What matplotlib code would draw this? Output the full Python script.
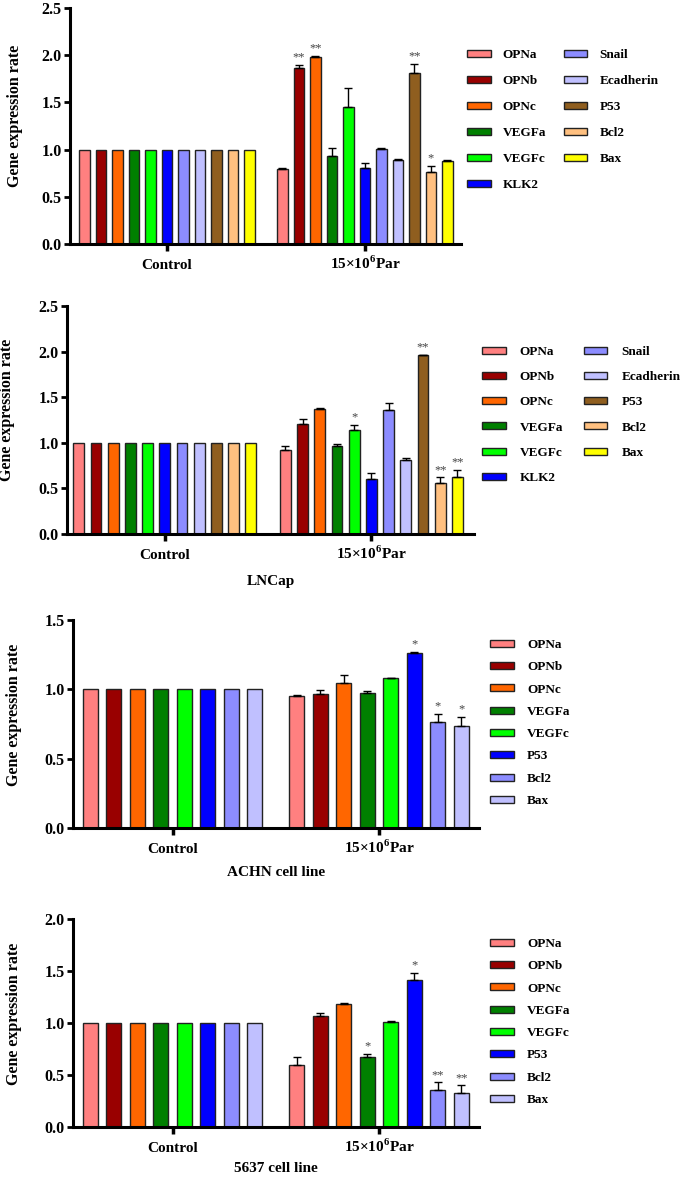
import numpy as np
import matplotlib.pyplot as plt
from matplotlib.patches import Patch

plt.rcParams['font.family'] = ['Liberation Serif', 'DejaVu Serif']
plt.rcParams['font.weight'] = 'bold'
plt.rcParams['mathtext.fontset'] = 'custom'
plt.rcParams['mathtext.rm'] = 'Liberation Serif'
plt.rcParams['mathtext.bf'] = 'Liberation Serif:bold'

# categories
groups = ['Control', r'15×10$^{\mathbf{6}}$Par']

genes11 = ['OPNa', 'OPNb', 'OPNc', 'VEGFa', 'VEGFc', 'KLK2',
           'Snail', 'Ecadherin', 'P53', 'Bcl2', 'Bax']
colors11 = ['#FF8080', '#990000', '#FF6600', '#008000', '#00FF00', '#0000FF',
            '#8C8CFF', '#C0C0FF', '#8F5E1F', '#FFC080', '#FFFF00']

genes8 = ['OPNa', 'OPNb', 'OPNc', 'VEGFa', 'VEGFc', 'P53', 'Bcl2', 'Bax']
colors8 = ['#FF8080', '#990000', '#FF6600', '#008000', '#00FF00', '#0000FF',
           '#8C8CFF', '#C0C0FF']

# panel 1 (no title)
p1_ctrl = [1.0, 1.0, 1.0, 1.0, 1.0, 1.0, 1.0, 1.0, 1.0, 1.0, 1.0]
p1_par = [0.79, 1.86, 1.98, 0.93, 1.45, 0.80, 1.01, 0.89, 1.81, 0.76, 0.88]
p1_err = [0.01, 0.04, 0.01, 0.09, 0.20, 0.06, 0.01, 0.01, 0.10, 0.07, 0.01]
p1_stars = ['', '**', '**', '', '', '', '', '', '**', '*', '']

# panel 2 - LNCap
p2_ctrl = [1.0, 1.0, 1.0, 1.0, 1.0, 1.0, 1.0, 1.0, 1.0, 1.0, 1.0]
p2_par = [0.92, 1.21, 1.37, 0.97, 1.14, 0.60, 1.36, 0.81, 1.96, 0.56, 0.62]
p2_err = [0.05, 0.05, 0.015, 0.02, 0.06, 0.07, 0.08, 0.02, 0.005, 0.06, 0.08]
p2_stars = ['', '', '', '', '*', '', '', '', '**', '**', '**']

# panel 3 - ACHN
p3_ctrl = [1.0, 1.0, 1.0, 1.0, 1.0, 1.0, 1.0, 1.0]
p3_par = [0.95, 0.965, 1.045, 0.97, 1.085, 1.26, 0.765, 0.735]
p3_err = [0.006, 0.03, 0.06, 0.02, 0.0, 0.01, 0.06, 0.065]
p3_stars = ['', '', '', '', '', '*', '*', '*']

# panel 4 - 5637
p4_ctrl = [1.0, 1.0, 1.0, 1.0, 1.0, 1.0, 1.0, 1.0]
p4_par = [0.60, 1.07, 1.18, 0.67, 1.01, 1.41, 0.36, 0.33]
p4_err = [0.07, 0.03, 0.01, 0.03, 0.007, 0.07, 0.07, 0.07]
p4_stars = ['', '', '', '*', '', '*', '**', '**']

W, H = 681, 1177
fig = plt.figure(figsize=(W / 100, H / 100), dpi=100)


def px_rect(left, top, right, bottom):
    return [left / W, 1 - bottom / H, (right - left) / W, (bottom - top) / H]


def draw_panel(rect, genes, colors, ctrl, par, err, stars, ymax, spacing, xlim,
               xlabel, xlab_dy, ylab_x, leg_xy, ncol, labelspacing, colspacing, textpad):
    ax = fig.add_axes(rect)
    n = len(genes)
    offs = np.arange(n) - (n - 1) / 2
    width = 0.63
    for i in range(n):
        xs = [offs[i], spacing + offs[i]]
        ax.bar(xs, [ctrl[i], par[i]], width, color=colors[i],
               edgecolor='#222222', linewidth=1, zorder=2)
    xp = spacing + offs
    ax.errorbar(xp, par, yerr=[np.zeros(n), err], fmt='none', ecolor='black',
                elinewidth=1, capsize=3, capthick=1, zorder=3)
    for i in range(n):
        if stars[i]:
            ax.annotate(stars[i], (xp[i], par[i] + err[i]), xytext=(0, 1),
                        textcoords='offset points', ha='center', va='bottom',
                        fontsize=9, fontweight='normal', color='#444444')
    ax.set_xlim(*xlim)
    ax.set_ylim(0, ymax)
    ax.set_yticks(np.arange(0, ymax + 0.01, 0.5))
    ax.set_yticklabels(['%.1f' % v for v in np.arange(0, ymax + 0.01, 0.5)])
    ax.set_xticks([0, spacing])
    ax.set_xticklabels(groups)
    for lab in ax.get_xticklabels():
        lab.set_va('baseline')
    for s in ['top', 'right']:
        ax.spines[s].set_visible(False)
    for s in ['left', 'bottom']:
        ax.spines[s].set_linewidth(2.2)
    ax.tick_params(axis='y', direction='out', length=4, width=2, labelsize=11.5, pad=2)
    ax.tick_params(axis='x', direction='out', length=5, width=2.5, labelsize=11, pad=13)
    ax.set_ylabel('Gene expression rate', fontsize=11.5, fontweight='bold')
    ax.yaxis.set_label_coords(ylab_x, 0.545)
    if xlabel:
        ax.text(0.5, -xlab_dy / (rect[3] * H), xlabel, transform=ax.transAxes,
                ha='center', va='center', fontsize=11, fontweight='bold')
    handles = [Patch(facecolor=c, edgecolor='#222222', linewidth=1) for c in colors]
    ax.legend(handles, genes, loc='upper left',
              bbox_to_anchor=(leg_xy[0] / W, 1 - leg_xy[1] / H),
              bbox_transform=fig.transFigure, frameon=False, ncol=ncol,
              prop={'family': 'Liberation Serif', 'weight': 'bold', 'size': 9.5},
              handlelength=1.8, handleheight=0.45, handletextpad=textpad,
              labelspacing=labelspacing, columnspacing=colspacing,
              borderpad=0, borderaxespad=0)
    return ax


draw_panel(px_rect(70, 8, 461, 244), genes11, colors11, p1_ctrl, p1_par, p1_err,
           p1_stars, 2.5, 12, (-5.88, 17.82), None, 0, -0.12, (467, 49), 2,
           1.06, 1.33, 0.9)
draw_panel(px_rect(67, 306, 474, 534), genes11, colors11, p2_ctrl, p2_par, p2_err,
           p2_stars, 2.5, 12, (-5.68, 17.96), 'LNCap', 48, -0.128, (482, 346), 2,
           1.0, 1.55, 1.06)
draw_panel(px_rect(73, 620, 479, 828), genes8, colors8, p3_ctrl, p3_par, p3_err,
           p3_stars, 1.5, 8.8, (-4.24, 13.06), 'ACHN cell line', 45, -0.126, (490, 639), 1,
           0.78, 1.0, 1.0)
draw_panel(px_rect(73, 919, 479, 1127), genes8, colors8, p4_ctrl, p4_par, p4_err,
           p4_stars, 2.0, 8.8, (-4.24, 13.06), '5637 cell line', 42, -0.126, (490, 938), 1,
           0.78, 1.0, 1.0)

fig.savefig('out.png', dpi=100)
